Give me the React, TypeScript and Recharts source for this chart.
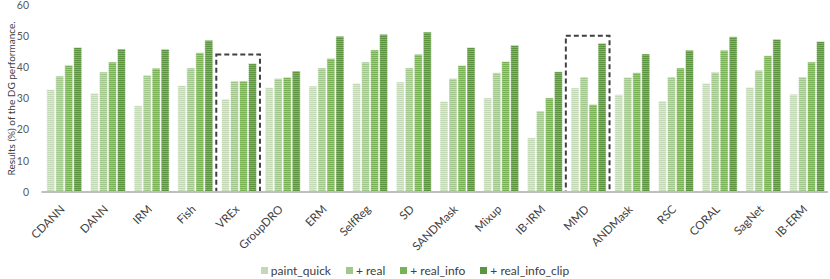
import React from 'react';
import { BarChart, Bar, XAxis, YAxis, Legend, ReferenceArea } from 'recharts';

// Methods on the x axis
const categories = [
  'CDANN', 'DANN', 'IRM', 'Fish', 'VREx', 'GroupDRO', 'ERM', 'SelfReg', 'SD',
  'SANDMask', 'Mixup', 'IB-IRM', 'MMD', 'ANDMask', 'RSC', 'CORAL', 'SagNet', 'IB-ERM',
];

// Results (%) per setting
const paintQuick = [32.9, 31.7, 27.7, 34.2, 29.8, 33.5, 34.0, 34.9, 35.3, 29.1, 30.2, 17.4, 33.4, 31.3, 29.2, 34.9, 33.6, 31.4];
const real = [37.2, 38.5, 37.5, 39.8, 35.6, 36.4, 39.8, 41.7, 39.8, 36.4, 38.3, 26.0, 36.9, 36.8, 36.9, 38.4, 39.1, 36.9];
const realInfo = [40.7, 41.7, 39.7, 44.7, 35.6, 36.8, 42.8, 45.6, 44.2, 40.6, 41.9, 30.2, 28.1, 38.3, 39.8, 45.5, 43.7, 41.7];
const realInfoClip = [46.4, 45.9, 45.8, 48.7, 41.2, 38.8, 50.0, 50.6, 51.3, 46.4, 47.1, 38.6, 47.7, 44.3, 45.5, 49.8, 49.0, 48.3];

const yTicks = [0, 10, 20, 30, 40, 50, 60];

// highlighted methods (dashed boxes) and box tops
const highlights = [
  { name: 'VREx', top: 44.1 },
  { name: 'MMD', top: 50.1 },
];

const series = [
  { key: 'paintQuick', name: 'paint_quick', color: '#c3d9b5', stripe: '#dde9d5' },
  { key: 'real', name: '+ real', color: '#a2c78c', stripe: '#c4dbb5' },
  { key: 'realInfo', name: '+ real_info', color: '#79b254', stripe: '#a3cb88' },
  { key: 'realInfoClip', name: '+ real_info_clip', color: '#5c9440', stripe: '#86b26d' },
];

const data = categories.map((name, i) => ({
  name,
  paintQuick: paintQuick[i],
  real: real[i],
  realInfo: realInfo[i],
  realInfoClip: realInfoClip[i],
}));

const FONT = 'Lato, "Open Sans", sans-serif';

const XTick = (props: any) => {
  const { x, y, payload } = props;
  const ax = x + 2;
  const ay = y + 16;
  return (
    <text
      x={ax}
      y={ay}
      transform={`rotate(-45, ${ax}, ${ay})`}
      textAnchor="end"
      fontSize={11.5}
      fontFamily={FONT}
      fill="#404040"
    >
      {payload.value}
    </text>
  );
};

const YLabel = (props: any) => {
  const { viewBox } = props;
  const cx = 11;
  const cy = viewBox.y + viewBox.height / 2;
  return (
    <text
      x={cx}
      y={cy}
      transform={`rotate(-90, ${cx}, ${cy})`}
      textAnchor="middle"
      dominantBaseline="central"
      fontSize={10}
      fontFamily={FONT}
      fill="#404040"
    >
      Results (%) of the DG performance.
    </text>
  );
};

// legend kept in series order
const LegendContent = () => (
  <div style={{ display: 'flex', justifyContent: 'center', alignItems: 'center', height: 14 }}>
    {series.map((s, i) => (
      <div
        key={s.key}
        style={{ display: 'flex', alignItems: 'center', marginRight: i < series.length - 1 ? 15 : 0 }}
      >
        <span style={{ width: 7, height: 7, background: s.color, marginRight: 3, display: 'inline-block' }} />
        <span style={{ fontSize: 12, color: '#404040', fontFamily: FONT }}>{s.name}</span>
      </div>
    ))}
  </div>
);

const App: React.FC = () => {
  return (
    <div style={{ position: 'absolute', left: 0, top: 0, fontFamily: FONT }}>
      <BarChart
        width={830}
        height={279}
        data={data}
        margin={{ top: 5, right: 2, bottom: 2, left: 0 }}
        barCategoryGap="12%"
        barGap={1}
      >
        <defs>
          {series.map((s) => (
            <pattern
              key={s.key}
              id={`stripe-${s.key}`}
              patternUnits="userSpaceOnUse"
              width={4}
              height={2}
            >
              <rect x={0} y={0} width={4} height={2} fill={s.color} />
              <rect x={0} y={1} width={4} height={1} fill={s.stripe} />
            </pattern>
          ))}
        </defs>
        <XAxis
          dataKey="name"
          interval={0}
          height={60}
          tickLine={false}
          tickSize={0}
          tick={<XTick />}
          axisLine={{ stroke: '#bfbfbf', strokeWidth: 2 }}
        />
        <YAxis
          width={41.5}
          domain={[0, 60]}
          ticks={yTicks}
          axisLine={false}
          tickLine={false}
          tickSize={0}
          tickMargin={12.5}
          tick={{ fontSize: 10.5, fill: '#595959', fontFamily: FONT }}
          label={<YLabel />}
        />
        <Legend
          height={25}
          content={<LegendContent />}
          wrapperStyle={{ top: 263, left: 0, width: 830 }}
        />
        {series.map((s) => (
          <Bar
            key={s.key}
            dataKey={s.key}
            name={s.name}
            fill={`url(#stripe-${s.key})`}
            stroke="#ffffff"
            strokeWidth={0.5}
            isAnimationActive={false}
          />
        ))}
        {highlights.map((h) => (
          <ReferenceArea
            key={h.name}
            x1={h.name}
            x2={h.name}
            y1={0}
            y2={h.top}
            fill="none"
            stroke="#404040"
            strokeWidth={2}
            strokeDasharray="5 3"
            ifOverflow="visible"
          />
        ))}
      </BarChart>
    </div>
  );
};

export default App;
